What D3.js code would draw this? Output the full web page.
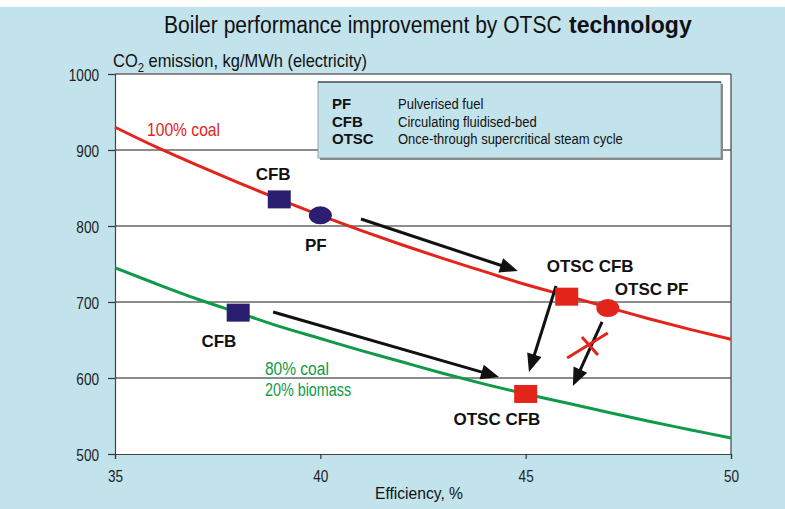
<!DOCTYPE html>
<html><head><meta charset="utf-8">
<script src="https://cdn.jsdelivr.net/npm/d3@7"></script>
<style>
body{margin:0;background:#c2e3ec;}
svg{display:block;}
text{font-family:"Liberation Sans",Arial,Helvetica,sans-serif;}
.bold{font-weight:bold;}
</style></head>
<body>
<script>
// ---- data ----
const efficiency = [35,36,37,38,39,40,41,42,43,44,45,46,47,48,49,50];
const coal100 = [930,904,880,857,835,814,794,775,757,740,723,708,693,678,664,651];
const coal80bio20 = [745,724,704,686,668,652,636,621,606,592,579,567,555,543,532,521];
const xTicks = [35,40,45,50];
const yTicks = [500,600,700,800,900,1000];
const squares = [ // [efficiency, co2, color]
  [39,835,"navy"],[38,686,"navy"],[46,707,"red"],[45,579,"red"]];
const circles = [[40,814,"navy"],[47,692,"red"]];
const arrows = [ // [x1,y1,x2,y2]
  [40.99,809.2,44.81,740.8],
  [38.85,686.8,44.35,601.3],
  [45.74,721.1,45.08,607.9],
  [46.86,673.7,46.15,589.5]];
const crossLines = [[46.01,626.3,47.00,659.2],[46.37,653.9,46.76,630.3]];
const pointLabels = [ // [text, efficiency, co2, anchor]
  ["CFB",38.85,860.5,"middle"],["PF",39.89,767,"middle"],["CFB",37.53,640.8,"middle"],
  ["OTSC CFB",46.57,739.5,"middle"],["OTSC PF",47.17,709.2,"start"],["OTSC CFB",44.30,538.2,"middle"]];
const legendKeys = ["PF","CFB","OTSC"];
const legendDesc = ["Pulverised fuel","Circulating fluidised-bed","Once-through supercritical steam cycle"];

const C = {red:"#e3241b", green:"#0f9a48", navy:"#2b1e70", bg:"#c2e3ec"};

const W=785,H=509;
const svg=d3.select("body").append("svg").attr("width",W).attr("height",H);
svg.append("rect").attr("width",W).attr("height",H).attr("fill",C.bg);
svg.append("rect").attr("width",W).attr("height",7).attr("fill","#fff");

const x=d3.scaleLinear().domain([35,50]).range([115,731]);
const y=d3.scaleLinear().domain([500,1000]).range([454,74]);

// helper: condensed text fitted/scaled horizontally
function cText(parent,tx,ty,str,size,opt={}){
  const g=parent.append("g");
  const t=g.append("text").attr("font-size",size).attr("fill",opt.fill||"#111")
    .attr("text-anchor",opt.anchor||"start");
  if(opt.bold) t.attr("class","bold");
  if(typeof str==="function") str(t); else t.text(str);
  let k=opt.k||1;
  if(opt.width){ k=opt.width/t.node().getBBox().width; }
  g.attr("transform",`translate(${tx},${ty}) scale(${k},1)`);
  return g;
}

// plot area
svg.append("rect").attr("x",x(35)).attr("y",y(1000)).attr("width",x(50)-x(35)).attr("height",y(500)-y(1000))
  .attr("fill","#fff");

// gridlines
svg.append("g").selectAll("line").data(yTicks.filter(d=>d>500&&d<1000)).join("line")
  .attr("x1",x(35)).attr("x2",x(50)).attr("y1",d=>y(d)).attr("y2",d=>y(d))
  .attr("stroke","#666").attr("stroke-width",1.3);
svg.append("line").attr("x1",x(35)).attr("x2",x(50)).attr("y1",y(1000)).attr("y2",y(1000)).attr("stroke","#666").attr("stroke-width",1.6);
svg.append("line").attr("x1",x(50)).attr("x2",x(50)).attr("y1",y(1000)).attr("y2",y(500)).attr("stroke","#444").attr("stroke-width",1.2);

// axes
const ya=svg.append("g").attr("transform",`translate(${x(35)},0)`)
  .call(d3.axisLeft(y).tickValues(yTicks).tickSize(7).tickFormat(d3.format("d")));
const xa=svg.append("g").attr("transform",`translate(0,${y(500)})`)
  .call(d3.axisBottom(x).tickValues(xTicks).tickSize(5).tickFormat(d3.format("d")));
[ya,xa].forEach(a=>{
  a.select(".domain").attr("stroke","#444").attr("stroke-width",1.2);
  a.selectAll(".tick line").attr("stroke","#333").attr("stroke-width",1.2);
});
ya.selectAll(".tick text").attr("x",0).attr("y",0).attr("dy","0.36em").attr("font-size",17).attr("fill","#222")
  .attr("transform","translate(-16,0) scale(0.8,1)");
xa.selectAll(".tick text").attr("x",0).attr("y",0).attr("dy",0).attr("font-size",17).attr("fill","#222")
  .attr("transform","translate(0,28) scale(0.8,1)");

// curves
const line=d3.line().x(d=>x(d[0])).y(d=>y(d[1])).curve(d3.curveMonotoneX);
svg.append("path").datum(efficiency.map((e,i)=>[e,coal100[i]])).attr("d",line)
  .attr("fill","none").attr("stroke",C.red).attr("stroke-width",3);
svg.append("path").datum(efficiency.map((e,i)=>[e,coal80bio20[i]])).attr("d",line)
  .attr("fill","none").attr("stroke",C.green).attr("stroke-width",3);

// arrows
arrows.forEach(a=>{
  const x1=x(a[0]),y1=y(a[1]),x2=x(a[2]),y2=y(a[3]);
  const ang=Math.atan2(y2-y1,x2-x1), L=18, Wd=7.5;
  const bx=x2-L*Math.cos(ang), by=y2-L*Math.sin(ang);
  svg.append("line").attr("x1",x1).attr("y1",y1).attr("x2",bx+3*Math.cos(ang)).attr("y2",by+3*Math.sin(ang))
    .attr("stroke","#111").attr("stroke-width",3);
  const px=-Math.sin(ang),py=Math.cos(ang);
  svg.append("polygon").attr("points",[[x2,y2],[bx+Wd*px,by+Wd*py],[bx-Wd*px,by-Wd*py]].map(p=>p.join(",")).join(" "))
    .attr("fill","#111");
});

// red cross
svg.append("g").selectAll("line").data(crossLines).join("line")
  .attr("x1",d=>x(d[0])).attr("y1",d=>y(d[1])).attr("x2",d=>x(d[2])).attr("y2",d=>y(d[3]))
  .attr("stroke",C.red).attr("stroke-width",3);

// markers
svg.append("g").selectAll("rect").data(squares).join("rect")
  .attr("x",d=>x(d[0])-11.5).attr("y",d=>y(d[1])-9).attr("width",23).attr("height",18)
  .attr("fill",d=>C[d[2]]);
svg.append("g").selectAll("ellipse").data(circles).join("ellipse")
  .attr("cx",d=>x(d[0])).attr("cy",d=>y(d[1])).attr("rx",11.5).attr("ry",9)
  .attr("fill",d=>C[d[2]]);

// point labels
svg.append("g").selectAll("text").data(pointLabels).join("text").attr("class","bold")
  .attr("x",d=>x(d[1])).attr("y",d=>y(d[2])).attr("text-anchor",d=>d[3])
  .attr("font-size",17).attr("fill","#111").text(d=>d[0]);

// series labels
cText(svg,x(35.78),y(918.4),"100% coal",18,{fill:C.red,width:73});
cText(svg,x(38.65),y(603.9),"80% coal",18,{fill:C.green,width:64});
cText(svg,x(38.65),y(576.3),"20% biomass",18,{fill:C.green,k:0.8});

// legend box
svg.append("rect").attr("x",320).attr("y",84).attr("width",403).attr("height",76).attr("fill","#8a8a8a");
svg.append("rect").attr("x",318).attr("y",82).attr("width",403).attr("height",76).attr("fill",C.bg)
  .attr("stroke","#888").attr("stroke-width",0.8);
svg.append("line").attr("x1",318).attr("x2",721).attr("y1",82).attr("y2",82).attr("stroke","#222").attr("stroke-width",1.2);
legendKeys.forEach((k,i)=>{
  svg.append("text").attr("class","bold").attr("x",332).attr("y",109+i*17.5).attr("font-size",15).attr("fill","#111").text(k);
  cText(svg,398,109+i*17.5,legendDesc[i],15.5,{k:0.84});
});

// titles
cText(svg,164,33,"Boiler performance improvement by OTSC",24,{width:398});
svg.append("text").attr("class","bold").attr("x",569).attr("y",33).attr("font-size",23).attr("fill","#111").text("technology");

cText(svg,113,67,t=>{
  t.append("tspan").text("CO");
  t.append("tspan").attr("font-size",13).attr("dy",5).text("2");
  t.append("tspan").attr("dy",-5).text(" emission, kg/MWh (electricity)");
},19,{width:254});

cText(svg,419,499,"Efficiency, %",16,{anchor:"middle",width:88});
</script>
</body></html>
